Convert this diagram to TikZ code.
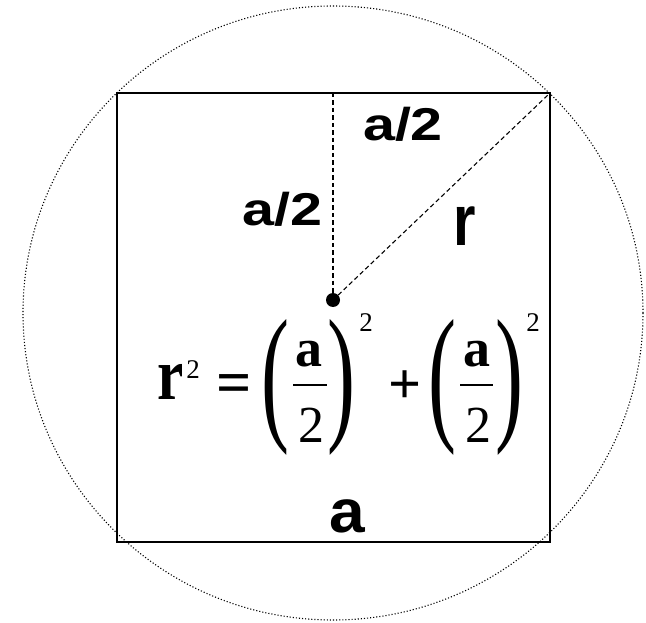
\documentclass[tikz,border=0pt]{standalone}
\usepackage{graphicx}
\usepackage{fontspec}
\setmainfont{Liberation Serif}
\newfontfamily\labfont{Liberation Sans}
\begin{document}
\begin{tikzpicture}[x=1pt,y=-1pt,
  lab/.style={inner sep=0pt, font=\labfont\bfseries},
  eqp/.style={inner sep=0pt},
  supp/.style={inner sep=0pt, font=\fontsize{27}{29}\selectfont},
  dashln/.style={dash pattern=on 4.5pt off 3pt, line width=1.1pt},
  dotln/.style={dash pattern=on 1.1pt off 2pt, line width=1.1pt},
  barln/.style={line width=1.6pt},
]
\useasboundingbox (0,0) rectangle (646,623);
\fill[white] (0,0) rectangle (646,623);
% circle
\draw[dotln] (333,313) ellipse[x radius=310, y radius=307];
% square
\coordinate (TL) at (117,93);
\coordinate (TR) at (550,93);
\coordinate (BR) at (550,542);
\coordinate (Top) at (333,93);
\draw[line width=2.6pt] (TL) rectangle (BR);
% centre dot and dashed lines
\node[circle, fill=black, inner sep=0pt, minimum size=14pt] (O) at (333,300) {};
\draw[dashln] (Top) -- (O);
\draw[dashln] (O) -- (TR);
% labels
\node[lab] (half1) at (403,124.5) {\fontsize{46}{50}\selectfont\scalebox{1.25}[1]{a/2}};
\node[lab] (half2) at (282.5,209.5) {\fontsize{46}{50}\selectfont\scalebox{1.25}[1]{a/2}};
\node[lab] (rr) at (464.5,226) {\fontsize{72}{76}\selectfont\scalebox{0.8}[1]{r}};
\node[lab] (side) at (347.5,516.5) {\fontsize{61}{64}\selectfont\scalebox{1.05}[1]{a}};
% equation
\node[eqp] (er) at (170.5,381.5) {\fontsize{74}{76}\selectfont\bfseries\scalebox{0.8}[1]{r}};
\node[supp] (ers) at (193,370) {2};
\node[eqp] (eq) at (234,389) {\fontsize{62}{64}\selectfont\bfseries =};
\node[eqp] (pl1) at (275,387.5) {\fontsize{60}{60}\selectfont\scalebox{1.4}[2.5]{(}};
\node[eqp] (pr1) at (341.5,387.5) {\fontsize{60}{60}\selectfont\scalebox{1.4}[2.5]{)}};
\node[eqp] (n1) at (309,354.5) {\fontsize{54}{56}\selectfont\bfseries a};
\coordinate (b1l) at (293,385);
\coordinate (b1r) at (327,385);
\draw[barln] (b1l) -- (b1r);
\node[eqp] (d1) at (311.5,425.5) {\fontsize{52}{56}\selectfont 2};
\node[supp] (s1) at (366,323) {2};
\node[eqp] (plus) at (405,387) {\fontsize{58}{60}\selectfont\bfseries +};
\node[eqp] (pl2) at (442.5,387.5) {\fontsize{60}{60}\selectfont\scalebox{1.4}[2.5]{(}};
\node[eqp] (pr2) at (509,387.5) {\fontsize{60}{60}\selectfont\scalebox{1.4}[2.5]{)}};
\node[eqp] (n2) at (476.5,354.5) {\fontsize{54}{56}\selectfont\bfseries a};
\coordinate (b2l) at (460,385);
\coordinate (b2r) at (493,385);
\draw[barln] (b2l) -- (b2r);
\node[eqp] (d2) at (478.5,425.5) {\fontsize{52}{56}\selectfont 2};
\node[supp] (s2) at (533,323) {2};
\end{tikzpicture}
\end{document}
